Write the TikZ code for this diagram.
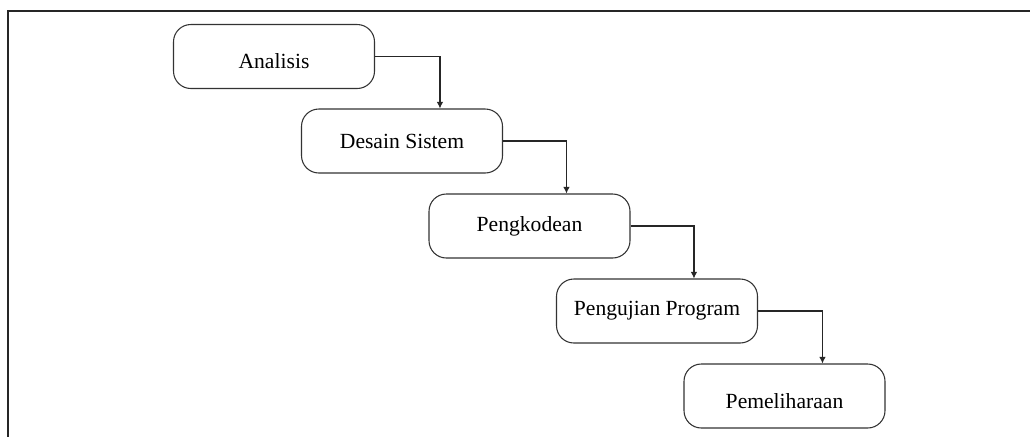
\documentclass[tikz,border=0pt]{standalone}
\usepackage{fontspec}
\setmainfont{Liberation Serif}
\usetikzlibrary{arrows.meta}
\newcommand{\lowtext}[1]{\raisebox{-3.75pt}[\height][\depth]{#1}}
\begin{document}
\begin{tikzpicture}[x=0.75pt,y=-0.75pt,
  stage/.style={draw=black!80, line width=0.8pt, rounded corners=13pt,
    minimum width=150.75pt, minimum height=48pt, inner sep=0pt,
    font=\fontsize{16.2}{19}\selectfont},
  flow/.style={draw=black!85, line width=0.8pt, -{Latex[length=5pt,width=5pt]}},
  frame/.style={draw=black!85, line width=1.4pt}]
\useasboundingbox (0,0) rectangle (1030,437);
\coordinate (ftop) at (1030,11);
\coordinate (fcorner) at (8,11);
\coordinate (fbot) at (8,437);
\draw[frame] (ftop) -- (fcorner) -- (fbot);
\node[stage] (a) at (274,56.5) {\lowtext{Analisis}};
\node[stage] (b) at (402,141) {Desain Sistem};
\node[stage] (c) at (529.5,226) {Pengkodean};
\node[stage] (d) at (657,311) {Pengujian Program};
\node[stage] (e) at (784.5,396) {\lowtext{Pemeliharaan}};
\draw[flow] (a.east) -| ([xshift=104.25pt]b.north west);
\draw[flow] (b.east) -| ([xshift=103.5pt]c.north west);
\draw[flow] (c.east) -| ([xshift=103.5pt]d.north west);
\draw[flow] (d.east) -| ([xshift=104.25pt]e.north west);
\end{tikzpicture}
\end{document}
